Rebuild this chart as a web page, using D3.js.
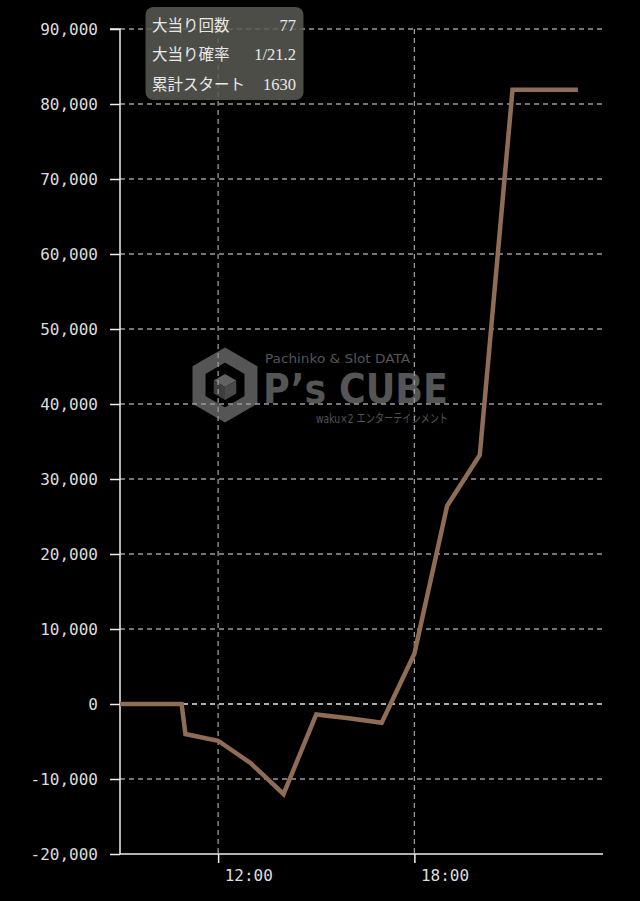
<!DOCTYPE html>
<html><head><meta charset="utf-8">
<script src="https://cdn.jsdelivr.net/npm/d3@7"></script>
<style>
html,body{margin:0;padding:0;background:#000;}
svg{display:block;}
</style></head>
<body>
<script>
// ---- data ----
const times  = ["09:00","10:53","11:00","12:00","13:00","14:00","15:00","16:00","17:00","18:00","19:00","20:00","21:00","23:00"];
const values = [0, 0, -4000, -4900, -7900, -12000, -1400, -1900, -2500, 6700, 26400, 33200, 81900, 81900];
const yTicks = [-20000,-10000,0,10000,20000,30000,40000,50000,60000,70000,80000,90000];
const xTickLabels = ["12:00","18:00"];
const infoLabels = ["大当り回数","大当り確率","累計スタート"];
const infoValues = ["77","1/21.2","1630"];

const W = 640, H = 901;
const parse = d3.timeParse("%H:%M");
const data = times.map((t,i)=>({t:parse(t), v:values[i]}));

const svg = d3.select("body").append("svg").attr("width",W).attr("height",H);

const x = d3.scaleTime().domain([parse("09:00"), parse("23:46")]).range([120, 603]);
const y = d3.scaleLinear().domain([-20000, 90000]).range([854, 29]);

// ---- watermark ----
const wm = svg.append("g").attr("fill","#555");
const cx = 225, cy = 385, R = 30;
const hex = d3.range(6).map(i=>{const a = Math.PI/3*i - Math.PI/2; return [cx+R*Math.cos(a), cy+R*Math.sin(a)];});
wm.append("path").attr("d","M"+hex.join("L")+"Z").attr("fill","none").attr("stroke","#555").attr("stroke-width",13).attr("stroke-linejoin","miter");
const r = 13;
const c = [cx, cy+2];
const pt = a => [c[0]+r*Math.cos(a), c[1]+r*Math.sin(a)];
const p = d3.range(6).map(i=>pt(Math.PI/3*i - Math.PI/2));
wm.append("path").attr("d",`M${c}L${p[5]}L${p[0]}L${p[1]}Z`).attr("fill","#626262");
wm.append("path").attr("d",`M${c}L${p[1]}L${p[2]}L${p[3]}Z`).attr("fill","#4a4a4a");
wm.append("path").attr("d",`M${c}L${p[3]}L${p[4]}L${p[5]}Z`).attr("fill","#3e3e3e");
wm.append("text").attr("x",265).attr("y",363).attr("font-family","DejaVu Sans").attr("font-size",11.5)
  .attr("textLength",145).attr("lengthAdjust","spacingAndGlyphs").text("Pachinko & Slot DATA");
wm.append("text").attr("x",263).attr("y",403).attr("font-family","DejaVu Sans").attr("font-weight","bold").attr("font-size",40)
  .attr("textLength",185).attr("lengthAdjust","spacingAndGlyphs").text("P’s CUBE");
wm.append("text").attr("x",316).attr("y",423).attr("font-family","DejaVu Sans, Noto Sans CJK JP").attr("font-size",12)
  .attr("textLength",132).attr("lengthAdjust","spacingAndGlyphs").text("waku×2 エンターテインメント");

// ---- grid ----
const grid = svg.append("g");
grid.selectAll(".hg").data(yTicks.filter(d=>d!==-20000)).join("line")
  .attr("x1",120).attr("x2",603).attr("y1",d=>y(d)).attr("y2",d=>y(d))
  .attr("stroke",d=>d===0?"#e6e6e6":"#9a9a9a").attr("stroke-width",1.3).attr("stroke-dasharray","5,4");
const xt = xTickLabels.map(parse);
grid.selectAll(".vg").data(xt).join("line")
  .attr("x1",d=>x(d)).attr("x2",d=>x(d)).attr("y1",y(90000)).attr("y2",854)
  .attr("stroke","#9a9a9a").attr("stroke-width",1.3).attr("stroke-dasharray","5,4");

// ---- axes ----
const loc = d3.formatLocale({decimal:".",thousands:",",grouping:[3],currency:["",""],minus:"-"});
const yAxis = d3.axisLeft(y).tickValues(yTicks).tickFormat(loc.format(",")).tickSize(10).tickPadding(12);
const gy = svg.append("g").attr("transform","translate(120,0)").call(yAxis);
gy.select(".domain").attr("stroke","#eee").attr("stroke-width",1.5).attr("d",`M-10,${y(90000)}H0V854`);
gy.selectAll(".tick line").attr("stroke","#eee").attr("stroke-width",1.5);
gy.selectAll(".tick text").attr("fill","#ddd").attr("font-family","DejaVu Sans Mono").attr("font-size",16);

const xAxis = d3.axisBottom(x).tickValues(xt).tickFormat(d3.timeFormat("%H:%M")).tickSize(9);
const gx = svg.append("g").attr("transform","translate(0,854)").call(xAxis);
gx.select(".domain").attr("stroke","#eee").attr("stroke-width",1.5).attr("d","M120,0H603");
gx.selectAll(".tick line").attr("stroke","#eee").attr("stroke-width",1.5);
gx.selectAll(".tick text").attr("fill","#ddd").attr("font-family","DejaVu Sans Mono").attr("font-size",16)
  .attr("text-anchor","start").attr("x",6).attr("y",16).attr("dy","0.71em");

// ---- line ----
const line = d3.line().x(d=>x(d.t)).y(d=>y(d.v));
svg.append("path").datum(data).attr("d",line).attr("fill","none")
  .attr("stroke","#8f6c56").attr("stroke-width",4.5).attr("stroke-linejoin","miter");

// ---- info box ----
const box = svg.append("g");
box.append("rect").attr("x",145.5).attr("y",7).attr("width",158).attr("height",93).attr("rx",8)
  .attr("fill","#5a5a55").attr("fill-opacity",0.85);
const rowsY = [31, 60, 90];
box.selectAll(".lab").data(infoLabels).join("text").attr("x",152).attr("y",(d,i)=>rowsY[i])
  .attr("fill","#e8e8e8").attr("font-family","Liberation Serif, Noto Sans CJK JP").attr("font-size",15.5).text(d=>d);
box.selectAll(".val").data(infoValues).join("text").attr("x",296).attr("y",(d,i)=>rowsY[i])
  .attr("text-anchor","end").attr("fill","#e8e8e8").attr("font-family","Liberation Serif, Noto Sans CJK JP").attr("font-size",16.5).text(d=>d);
</script>
</body></html>
